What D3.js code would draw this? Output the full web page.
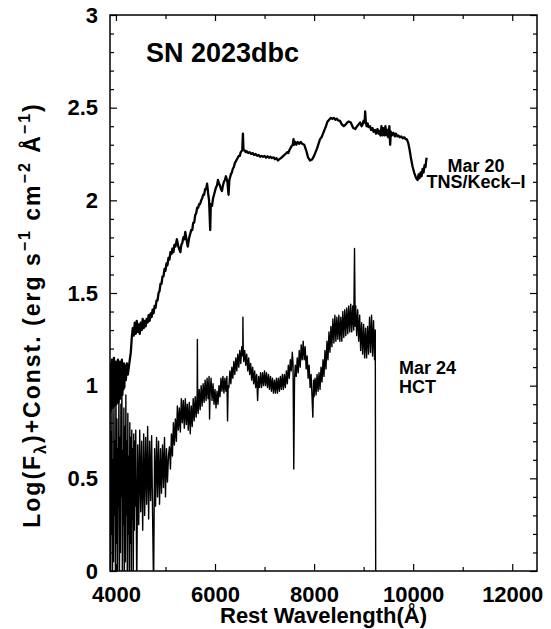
<!DOCTYPE html>
<html><head><meta charset="utf-8">
<script src="https://cdn.jsdelivr.net/npm/d3@7"></script>
<style>
body{margin:0;background:#fff}
text{font-family:"Liberation Sans",Arial,Helvetica,sans-serif;font-weight:bold;fill:#000}
</style>
</head><body>
<svg id="chart" width="551" height="629"></svg>
<script>
// ---------- data ----------
const xMajorTicks = [4000, 6000, 8000, 10000, 12000];
const xMinorTicks = [5000, 7000, 9000, 11000];
const yMajorTicks = [0, 0.5, 1, 1.5, 2, 2.5, 3];
const yMinorTicks = [0.1,0.2,0.3,0.4,0.6,0.7,0.8,0.9,1.1,1.2,1.3,1.4,1.6,1.7,1.8,1.9,2.1,2.2,2.3,2.4,2.6,2.7,2.8,2.9];
const titleText = "SN 2023dbc";
const keckLabel = ["Mar 20", "TNS/Keck\u2013I"];
const hctLabel = ["Mar 24", "HCT"];

// Mar 20 TNS/Keck-I spectrum: [rest wavelength (A), log flux + const]
const keckSpectrum = [
[3880,1.08],[3890,0.86],[3900,1.12],[3910,0.90],[3920,1.14],[3930,0.88],[3940,1.10],[3950,0.92],
[3960,1.15],[3970,0.89],[3980,1.09],[3990,0.94],[4000,1.13],[4010,0.90],[4020,1.11],[4030,0.95],
[4040,1.14],[4050,0.91],[4060,1.10],[4070,0.96],[4080,1.13],[4090,0.93],[4100,1.09],[4110,0.97],
[4120,1.14],[4130,0.95],[4140,1.10],[4150,0.98],[4160,1.12],[4170,0.99],[4180,1.11],[4200,1.03],
[4220,1.12],[4240,1.06],[4260,1.10],[4280,1.14],[4300,1.18],[4320,1.26],[4340,1.31],
[4360,1.27],[4380,1.34],[4400,1.28],[4420,1.35],[4440,1.29],[4460,1.33],[4480,1.28],[4500,1.34],
[4520,1.30],[4540,1.36],[4560,1.31],[4580,1.35],[4600,1.32],[4620,1.36],[4640,1.34],[4660,1.38],[4680,1.35],[4700,1.39],[4720,1.37],
[4740,1.41],[4760,1.39],[4780,1.43],[4800,1.42],[4820,1.46],[4840,1.46],[4860,1.50],[4880,1.51],[4900,1.55],[4920,1.55],[4940,1.59],[4960,1.59],[4980,1.63],[5000,1.62],[5020,1.66],[5040,1.65],
[5060,1.69],[5080,1.68],[5100,1.72],[5120,1.71],[5140,1.74],[5160,1.72],[5180,1.76],[5200,1.75],[5230,1.79],[5260,1.75],[5300,1.72],[5320,1.76],[5340,1.77],
[5360,1.80],[5380,1.79],[5400,1.83],[5430,1.78],[5450,1.75],[5480,1.80],[5500,1.82],[5520,1.84],[5540,1.84],[5560,1.88],[5580,1.88],[5600,1.92],
[5620,1.93],[5640,1.96],[5660,1.96],[5680,1.98],[5700,1.98],[5720,2.00],[5740,2.01],[5760,2.03],[5780,2.03],[5800,2.06],[5820,2.06],[5840,2.09],[5860,2.04],[5880,2.00],
[5903,1.84],[5915,1.98],[5940,1.97],[5960,2.01],[5980,2.03],[6000,2.05],[6020,2.07],[6040,2.08],[6060,2.11],[6080,2.09],[6100,2.08],[6120,2.06],[6140,2.05],
[6160,2.08],[6180,2.10],[6200,2.11],[6220,2.13],[6250,2.10],[6273,2.03],[6290,2.11],[6320,2.14],[6340,2.15],[6360,2.17],[6380,2.18],[6400,2.20],
[6420,2.21],[6440,2.22],[6460,2.23],[6480,2.24],[6500,2.24],[6520,2.26],[6550,2.27],[6563,2.36],[6575,2.27],[6600,2.27],[6620,2.26],[6640,2.265],
[6670,2.255],[6700,2.26],[6730,2.25],[6760,2.255],[6790,2.245],[6820,2.25],[6850,2.24],[6880,2.245],[6910,2.235],[6940,2.24],[6970,2.235],[7000,2.24],[7030,2.23],[7060,2.238],[7090,2.23],[7120,2.235],
[7150,2.228],[7180,2.232],[7210,2.222],[7240,2.228],[7270,2.215],[7300,2.222],[7340,2.23],[7380,2.24],[7420,2.25],[7460,2.26],[7480,2.255],[7500,2.27],
[7520,2.28],[7540,2.29],[7570,2.30],[7585,2.33],[7600,2.30],[7620,2.315],[7640,2.30],[7670,2.315],[7700,2.305],[7730,2.315],[7760,2.305],[7800,2.30],
[7840,2.27],[7880,2.23],[7920,2.215],[7960,2.22],[8000,2.24],[8060,2.28],[8120,2.33],[8150,2.34],[8180,2.36],
[8210,2.38],[8240,2.40],[8270,2.425],[8290,2.43],[8320,2.44],[8340,2.445],[8370,2.44],[8400,2.445],[8430,2.435],[8460,2.44],[8490,2.43],[8520,2.43],[8560,2.41],[8600,2.40],
[8640,2.41],[8670,2.42],[8700,2.425],[8740,2.42],[8790,2.39],[8830,2.385],[8870,2.40],[8900,2.41],[8930,2.42],[8960,2.40],[8980,2.41],
[9000,2.43],[9020,2.42],[9031,2.48],[9045,2.42],[9060,2.40],[9080,2.415],[9100,2.395],[9130,2.40],[9150,2.38],[9180,2.39],[9200,2.37],[9230,2.38],[9250,2.36],[9280,2.385],[9300,2.36],
[9320,2.375],[9340,2.35],[9360,2.40],[9380,2.35],[9400,2.39],[9420,2.35],[9440,2.40],[9460,2.35],[9480,2.38],[9500,2.34],[9520,2.40],[9536,2.30],[9550,2.37],
[9570,2.35],[9600,2.365],[9630,2.345],[9650,2.36],[9680,2.345],[9700,2.35],[9730,2.34],[9760,2.345],[9790,2.335],[9820,2.34],[9850,2.33],[9870,2.33],[9900,2.31],[9930,2.27],
[9960,2.22],[9990,2.18],[10020,2.15],[10060,2.12],[10090,2.11],[10110,2.14],[10130,2.12],[10150,2.15],[10170,2.13],[10190,2.17],[10210,2.15],
[10230,2.19],[10250,2.18],[10265,2.22],[10275,2.23]
];

// Mar 24 HCT spectrum: [rest wavelength (A), log flux + const]
const hctSpectrum = [
[3880,0.92],[3890,-0.1],[3900,0.75],[3910,0.20],[3920,1.02],[3930,-0.1],[3940,0.60],[3950,0.05],
[3960,0.95],[3970,0.30],[3980,0.70],[3990,-0.1],[4000,1.05],[4010,0.15],[4020,0.82],[4030,-0.1],
[4040,0.66],[4050,0.35],[4060,0.98],[4070,-0.1],[4080,0.72],[4090,0.10],[4100,0.90],[4110,0.40],
[4120,1.00],[4130,-0.1],[4140,0.65],[4150,0.25],[4160,0.88],[4170,-0.1],[4180,0.78],[4190,0.05],
[4200,0.95],[4210,0.30],[4220,0.70],[4230,-0.1],[4240,0.85],[4250,0.20],[4260,0.62],[4270,-0.1],
[4280,0.80],[4290,0.15],[4300,0.72],[4310,-0.1],[4320,0.76],[4330,0.28],[4340,0.66],[4350,-0.1],
[4360,0.74],[4370,0.22],[4380,0.70],[4390,0.35],[4400,0.76],
[4420,-0.1],[4440,0.68],[4460,0.25],[4480,0.76],[4500,0.32],
[4520,0.70],[4540,0.22],[4560,0.74],[4580,0.30],[4600,0.72],[4620,0.36],[4640,0.78],[4660,0.28],
[4680,0.70],[4700,0.38],[4720,0.73],[4740,0.30],[4760,-0.1],[4780,0.66],[4800,0.35],[4820,0.72],
[4840,0.40],[4860,0.70],[4880,0.36],[4900,0.66],[4920,0.42],[4940,0.68],[4960,0.45],[4980,0.72],
[5000,0.40],[5020,0.66],[5040,0.48],[5060,0.62],
[5080,0.67],[5100,0.55],[5120,0.74],[5140,0.62],[5160,0.80],[5180,0.68],[5200,0.82],[5220,0.70],
[5240,0.89],[5260,0.76],[5280,0.88],[5300,0.75],[5320,0.93],[5340,0.80],[5360,0.92],[5380,0.77],
[5400,0.93],[5420,0.79],[5440,0.90],[5460,0.76],[5480,0.91],[5500,0.74],[5520,0.89],[5540,0.78],
[5560,0.93],[5580,0.81],[5600,0.94],[5620,0.83],[5640,0.96],[5644,1.25],[5650,0.88],[5660,0.85],
[5680,0.98],[5700,0.87],[5720,1.00],[5740,0.89],[5760,1.01],[5780,0.91],[5800,1.03],[5820,0.92],
[5840,1.04],[5860,0.93],[5880,1.05],[5890,0.82],[5900,0.95],[5920,1.04],[5940,0.92],[5960,1.01],
[5980,0.90],[6000,0.98],[6020,0.88],[6040,0.97],[6060,0.90],[6080,1.00],[6100,0.94],[6120,1.04],
[6140,0.97],[6160,1.05],[6180,0.96],[6200,1.04],[6220,0.97],[6240,1.05],[6253,0.81],[6265,1.00],
[6280,0.99],[6300,1.08],[6320,1.01],[6340,1.10],[6360,1.04],[6380,1.13],[6400,1.06],[6420,1.15],
[6440,1.08],[6460,1.17],[6480,1.10],[6500,1.19],[6520,1.12],[6540,1.21],[6560,1.16],[6563,1.37],
[6570,1.19],[6580,1.13],[6600,1.19],[6620,1.11],[6640,1.17],[6660,1.08],[6680,1.15],[6700,1.06],
[6720,1.12],[6740,1.03],[6760,1.10],[6780,1.01],[6800,1.08],[6820,0.99],[6840,1.06],[6860,0.92],
[6880,1.05],[6900,0.99],[6920,1.07],[6940,0.99],[6960,1.07],[6980,1.00],[7000,1.08],[7020,1.00],
[7040,1.07],[7060,0.99],[7080,1.06],[7100,0.98],[7120,1.05],[7140,0.97],[7160,1.04],[7180,0.96],
[7200,1.03],[7220,0.96],[7240,1.04],[7260,0.96],[7280,1.04],[7300,0.97],[7320,1.05],[7340,0.98],
[7360,1.06],[7380,0.98],[7400,1.06],[7420,0.99],[7440,1.08],[7460,1.01],[7480,1.11],[7500,1.04],
[7520,1.14],[7540,1.08],[7560,1.18],[7575,1.12],[7590,0.55],[7605,1.03],[7620,1.11],[7640,1.05],
[7660,1.15],[7680,1.07],[7700,1.19],[7720,1.10],[7740,1.22],[7760,1.14],[7780,1.24],[7800,1.14],
[7820,1.21],[7840,1.09],[7860,1.16],[7880,1.04],[7900,1.11],[7920,0.99],[7940,1.06],[7960,0.93],
[7975,0.83],[7990,1.03],[8000,0.94],[8020,1.04],[8040,0.95],[8060,1.06],[8080,0.97],[8100,1.07],
[8120,0.98],[8140,1.10],[8160,1.02],[8180,1.14],[8200,1.05],[8220,1.19],[8240,1.09],[8260,1.24],
[8280,1.14],[8300,1.29],[8320,1.18],[8340,1.32],[8360,1.21],[8380,1.36],[8400,1.23],[8420,1.38],
[8440,1.24],[8460,1.37],[8480,1.25],[8500,1.38],[8520,1.24],[8540,1.37],[8560,1.24],[8580,1.40],
[8600,1.26],[8620,1.41],[8640,1.27],[8660,1.42],[8680,1.28],[8700,1.43],[8720,1.29],[8740,1.44],
[8760,1.29],[8780,1.43],[8800,1.30],[8816,1.74],[8830,1.32],[8840,1.43],[8860,1.27],[8880,1.41],
[8900,1.24],[8920,1.38],[8940,1.19],[8960,1.34],[8980,1.17],[9000,1.33],[9020,1.15],[9040,1.31],
[9060,1.15],[9080,1.32],[9100,1.17],[9120,1.37],[9140,1.18],[9160,1.38],[9180,1.16],[9200,1.35],
[9220,1.14],[9235,1.30],[9245,-0.2]
];

// ---------- chart ----------
const svg = d3.select("#chart");
const plot = {left:110, right:537, top:15, bottom:571};

const x = d3.scaleLinear().domain([3880, 12500]).range([plot.left, plot.right]);
const y = d3.scaleLinear().domain([0, 3]).range([plot.bottom, plot.top]);

svg.append("defs").append("clipPath").attr("id","clip")
  .append("rect").attr("x",plot.left).attr("y",plot.top)
  .attr("width",plot.right-plot.left).attr("height",plot.bottom-plot.top);

const line = d3.line().x(d=>x(d[0])).y(d=>y(d[1]));

const g = svg.append("g").attr("clip-path","url(#clip)");
g.append("path").datum(hctSpectrum).attr("d",line)
  .attr("fill","none").attr("stroke","#000").attr("stroke-width",1.4).attr("stroke-linejoin","round");
g.append("path").datum(keckSpectrum).attr("d",line)
  .attr("fill","none").attr("stroke","#000").attr("stroke-width",2.3).attr("stroke-linejoin","round");

function styleAxis(sel){
  sel.select(".domain").remove();
  sel.selectAll("line").attr("stroke","#000").attr("stroke-width",1.2);
  sel.selectAll("text").style("font-size","22px").style("font-family",'"Liberation Sans",Arial,sans-serif').style("font-weight","bold");
}
// bottom
svg.append("g").attr("transform",`translate(0,${plot.bottom})`)
  .call(d3.axisBottom(x).tickValues(xMajorTicks).tickSize(-7).tickPadding(15).tickFormat(d3.format("d"))).call(styleAxis);
svg.append("g").attr("transform",`translate(0,${plot.bottom})`)
  .call(d3.axisBottom(x).tickValues(xMinorTicks).tickSize(-4).tickFormat("")).call(styleAxis);
// top
svg.append("g").attr("transform",`translate(0,${plot.top})`)
  .call(d3.axisTop(x).tickValues(xMajorTicks).tickSize(-6).tickFormat("")).call(styleAxis);
svg.append("g").attr("transform",`translate(0,${plot.top})`)
  .call(d3.axisTop(x).tickValues(xMinorTicks).tickSize(-4).tickFormat("")).call(styleAxis);
// left
svg.append("g").attr("transform",`translate(${plot.left},0)`)
  .call(d3.axisLeft(y).tickValues(yMajorTicks).tickSize(-7).tickPadding(12).tickFormat(d=>String(d))).call(styleAxis);
svg.append("g").attr("transform",`translate(${plot.left},0)`)
  .call(d3.axisLeft(y).tickValues(yMinorTicks).tickSize(-4).tickFormat("")).call(styleAxis);
// right
svg.append("g").attr("transform",`translate(${plot.right},0)`)
  .call(d3.axisRight(y).tickValues(yMajorTicks).tickSize(-7).tickFormat("")).call(styleAxis);
svg.append("g").attr("transform",`translate(${plot.right},0)`)
  .call(d3.axisRight(y).tickValues(yMinorTicks).tickSize(-4).tickFormat("")).call(styleAxis);

// frame
svg.append("rect").attr("x",plot.left).attr("y",plot.top)
  .attr("width",plot.right-plot.left).attr("height",plot.bottom-plot.top)
  .attr("fill","none").attr("stroke","#000").attr("stroke-width",1.5);

// axis titles
svg.append("text").attr("x",(plot.left+plot.right)/2).attr("y",623)
  .attr("text-anchor","middle").style("font-size","22px").text("Rest Wavelength(\u00C5)");

const yl = svg.append("text").attr("transform","translate(40,315) rotate(-90)")
  .attr("text-anchor","middle").style("font-size","23px").style("letter-spacing","2px");
yl.append("tspan").text("Log(F");
yl.append("tspan").attr("dy",6).style("font-size","16px").text("\u03BB");
yl.append("tspan").attr("dy",-6).text(")+Const. (erg s");
yl.append("tspan").attr("dy",-10).style("font-size","16px").text("\u22121");
yl.append("tspan").attr("dy",10).text(" cm");
yl.append("tspan").attr("dy",-10).style("font-size","16px").text("\u22122");
yl.append("tspan").attr("dy",10).text(" \u00C5");
yl.append("tspan").attr("dy",-10).style("font-size","16px").text("\u22121");
yl.append("tspan").attr("dy",10).text(")");

// title
svg.append("text").attr("x",x(4607)).attr("y",y(2.746)).style("font-size","27px").text(titleText);

// spectrum labels
const kl = svg.append("text").attr("text-anchor","middle").style("font-size","18px");
kl.append("tspan").attr("x",x(11269)).attr("y",y(2.153)).text(keckLabel[0]);
kl.append("tspan").attr("x",x(11269)).attr("y",y(2.067)).text(keckLabel[1]);
const hl = svg.append("text").style("font-size","18px");
hl.append("tspan").attr("x",x(9714)).attr("y",y(1.063)).text(hctLabel[0]);
hl.append("tspan").attr("x",x(9714)).attr("y",y(0.960)).text(hctLabel[1]);
</script>
</body></html>
